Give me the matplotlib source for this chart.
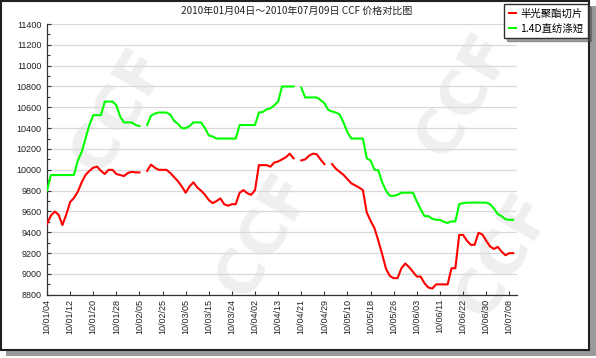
import matplotlib
matplotlib.use("Agg")
import matplotlib.pyplot as plt
import numpy as np
from matplotlib.patches import Rectangle
from matplotlib.lines import Line2D
from matplotlib.ticker import MultipleLocator

nan = np.nan

title = "2010年01月04日～2010年07月09日 CCF 价格对比图"
series_names = ["半光聚酯切片", "1.4D直纺涤短"]
tick_labels = ["10/01/04", "10/01/12", "10/01/20", "10/01/28", "10/02/05", "10/02/25",
               "10/03/05", "10/03/15", "10/03/24", "10/04/02", "10/04/13", "10/04/21",
               "10/04/29", "10/05/10", "10/05/18", "10/05/26", "10/06/03", "10/06/11",
               "10/06/22", "10/06/30", "10/07/08"]

red_values = [
    9480, 9560, 9600, 9570, 9470, 9570, 9690, 9730, 9790, 9880,
    9950, 9990, 10020, 10030, 9990, 9960, 10000, 10000, 9960, 9950,
    9940, 9970, 9980, 9975, 9975, nan, 9990, 10050, 10020, 10000,
    10000, 10000, 9970, 9930, 9890, 9840, 9780, 9840, 9880, 9830,
    9800, 9760, 9710, 9680, 9700, 9725, 9670, 9655, 9670, 9670,
    9780, 9805, 9775, 9760, 9805, 10045, 10045, 10045, 10030, 10070,
    10080, 10100, 10120, 10155, 10110, nan, 10090, 10100, 10135, 10155,
    10150, 10100, 10055, nan, 10055, 10010, 9980, 9950, 9910, 9870,
    9850, 9830, 9805, 9590, 9510, 9440, 9320, 9190, 9050, 8980,
    8960, 8960, 9055, 9100, 9065, 9020, 8975, 8975, 8910, 8870,
    8860, 8900, 8900, 8900, 8900, 9055, 9055, 9375, 9375, 9320,
    9280, 9280, 9395, 9380, 9320, 9265, 9240, 9260, 9215, 9180,
    9200, 9200,
]

green_values = [
    9800, 9950, 9950, 9950, 9950, 9950, 9950, 9950, 10090, 10170,
    10300, 10430, 10525, 10525, 10525, 10655, 10655, 10655, 10620, 10510,
    10455, 10455, 10455, 10430, 10420, nan, 10430, 10520, 10540, 10550,
    10550, 10550, 10530, 10470, 10440, 10400, 10400, 10420, 10455, 10455,
    10455, 10400, 10330, 10320, 10300, 10300, 10300, 10300, 10300, 10300,
    10430, 10430, 10430, 10430, 10430, 10550, 10555, 10580, 10590, 10620,
    10655, 10800, 10800, 10800, 10800, nan, 10790, 10695, 10695, 10695,
    10695, 10670, 10640, 10575, 10560, 10550, 10530, 10450, 10360, 10300,
    10300, 10300, 10300, 10110, 10090, 10000, 9995, 9880, 9800, 9750,
    9750, 9760, 9780, 9780, 9780, 9780, 9695, 9620, 9555, 9555,
    9530, 9520, 9520, 9500, 9490, 9505, 9505, 9670, 9680, 9685,
    9685, 9685, 9685, 9685, 9685, 9670, 9630, 9575, 9555, 9525,
    9520, 9520,
]

W, H = 596, 358
fig = plt.figure(figsize=(W / 100, H / 100), dpi=100)
fig.patch.set_facecolor("white")

def fx(px):
    return px / W

def fy(py):
    return 1 - py / H

# outer panel with shadow
fig.add_artist(Rectangle((fx(6), fy(356)), fx(590), 350 / H, transform=fig.transFigure,
                         facecolor="#9a9a9a", edgecolor="none", zorder=-2))
fig.add_artist(Rectangle((fx(0.5), fy(350)), fx(588), 349.5 / H, transform=fig.transFigure,
                         facecolor="white", edgecolor="#202020", linewidth=1.5, zorder=-1))

# faint background watermarks
for (wx, wy, rot) in [(120, 110, 60), (265, 235, 60), (465, 95, 60), (505, 255, 60)]:
    fig.text(fx(wx), fy(wy), "CCF", ha="center", va="center", fontsize=44,
             fontweight="bold", color="#efefef", rotation=rot,
             family="DejaVu Sans", zorder=-0.5)

ax = fig.add_axes([fx(47), fy(294.8), fx(517 - 47), (294.8 - 24) / H])
ax.set_facecolor("none")
ax.set_zorder(1)

x = np.arange(len(red_values))
ax.plot(x, red_values, color="#ff0000", linewidth=1.5, solid_joinstyle="round", zorder=3)
ax.plot(x, green_values, color="#00ff00", linewidth=1.5, solid_joinstyle="round", zorder=3)

ax.set_xlim(0, 122)
ax.set_ylim(8800, 11400)
ax.set_yticks(np.arange(8800, 11401, 200))
ax.yaxis.set_minor_locator(MultipleLocator(100))
ax.set_yticklabels([str(v) for v in range(8800, 11401, 200)],
                   fontfamily="Liberation Sans", fontsize=6.5, color="#222222")
ax.set_xticks(np.arange(0, 121, 6))
ax.set_xticklabels(tick_labels, rotation=90, fontfamily="Liberation Sans",
                   fontsize=6.5, color="#222222")
ax.grid(axis="y", color="#d9d9d9", linewidth=0.9)
ax.set_axisbelow(True)
for s in ["top", "right"]:
    ax.spines[s].set_visible(False)
for s in ["left", "bottom"]:
    ax.spines[s].set_color("#333333")
    ax.spines[s].set_linewidth(0.9)
ax.tick_params(axis="y", which="major", direction="in", length=3, width=0.8,
               color="#333333", pad=4)
ax.tick_params(axis="y", which="minor", direction="in", length=2, width=0.8,
               color="#333333")
ax.tick_params(axis="x", which="major", direction="in", length=3, width=0.8,
               color="#333333", pad=3)

fig.text(fx(297), fy(11), title, ha="center", va="center", fontsize=7.2,
         family=["Noto Sans CJK SC", "DejaVu Sans"], color="#222222")

handles = [Line2D([], [], color="#ff0000", linewidth=1.5),
           Line2D([], [], color="#00ff00", linewidth=1.5)]
leg = fig.legend(handles, series_names, loc="upper right",
                 bbox_to_anchor=(fx(588), fy(4)), bbox_transform=fig.transFigure,
                 frameon=True, fancybox=False, shadow=True, edgecolor="#303030",
                 handlelength=0.7, handletextpad=0.4, borderpad=0.45,
                 labelspacing=0.45, borderaxespad=0,
                 prop={"family": ["Noto Sans CJK SC", "DejaVu Sans"], "size": 7.5})
leg.get_frame().set_linewidth(1.0)
leg.set_zorder(10)

fig.savefig("out.png", dpi=100, facecolor="white")
